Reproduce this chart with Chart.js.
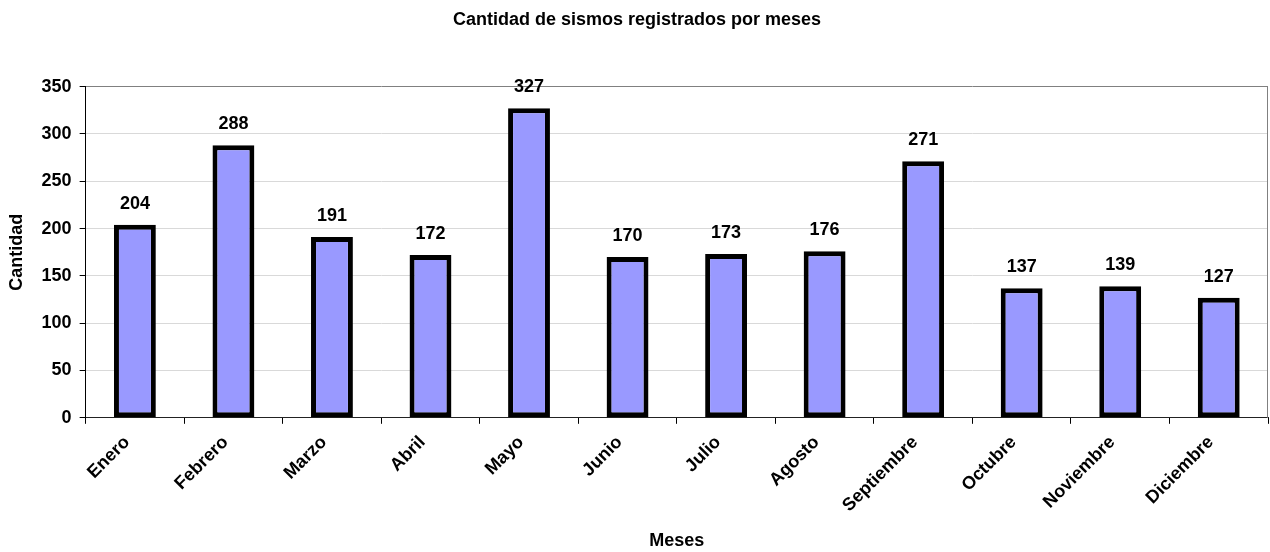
<!DOCTYPE html>
<html lang="es">
<head>
<meta charset="UTF-8">
<title>Cantidad de sismos registrados por meses</title>
<script src="https://cdn.jsdelivr.net/npm/chart.js"></script>
<style>
    body { margin: 0; padding: 0; background: #fff; }
    .wrap { width: 1270px; height: 552px; }
</style>
</head>
<body>
<div class="wrap"><canvas id="sismos"></canvas></div>
<script>
    var meses = ['Enero', 'Febrero', 'Marzo', 'Abril', 'Mayo', 'Junio', 'Julio', 'Agosto', 'Septiembre', 'Octubre', 'Noviembre', 'Diciembre'];
    var cantidad = [204, 288, 191, 172, 327, 170, 173, 176, 271, 137, 139, 127];
    var yTicks = [0, 50, 100, 150, 200, 250, 300, 350];

    var fuente = '"Liberation Sans", Arial, sans-serif';

    // labels over each bar + right edge of the plot area
    var etiquetas = {
        id: 'etiquetas',
        afterDatasetsDraw: function(chart) {
            var ctx = chart.ctx;
            var meta = chart.getDatasetMeta(0);
            ctx.save();
            ctx.font = 'bold 18px ' + fuente;
            ctx.fillStyle = '#000';
            ctx.textAlign = 'center';
            ctx.textBaseline = 'alphabetic';
            meta.data.forEach(function(bar, i) {
                ctx.fillText(cantidad[i], bar.x, bar.y - 16);
            });
            var a = chart.chartArea;
            ctx.strokeStyle = '#808080';
            ctx.lineWidth = 1;
            ctx.beginPath();
            ctx.moveTo(a.right - 0.5, a.top);
            ctx.lineTo(a.right - 0.5, a.bottom);
            ctx.stroke();
            ctx.restore();
        }
    };

    new Chart(document.getElementById('sismos'), {
        type: 'bar',
        data: {
            labels: meses,
            datasets: [{
                data: cantidad,
                backgroundColor: '#9999ff',
                borderColor: '#000',
                borderWidth: 5,
                borderSkipped: false,
                barPercentage: 0.425,
                categoryPercentage: 1
            }]
        },
        options: {
            responsive: true,
            maintainAspectRatio: false,
            animation: false,
            layout: { padding: { top: 0, right: 2, left: 6, bottom: 0 } },
            plugins: {
                legend: { display: false },
                tooltip: { enabled: false },
                title: {
                    display: true,
                    text: 'Cantidad de sismos registrados por meses',
                    color: '#000',
                    font: { family: fuente, size: 18, weight: 'bold' },
                    padding: { top: 9, bottom: 56 }
                }
            },
            scales: {
                x: {
                    offset: true,
                    grid: { offset: true, drawOnChartArea: false, color: '#000', tickLength: 6 },
                    border: { color: '#222', width: 1 },
                    ticks: {
                        color: '#000',
                        maxRotation: 45,
                        minRotation: 45,
                        padding: 8,
                        labelOffset: -8,
                        font: { family: fuente, size: 18, weight: 'bold' }
                    },
                    title: {
                        display: true,
                        text: 'Meses',
                        color: '#000',
                        font: { family: fuente, size: 18, weight: 'bold' },
                        padding: { top: 6, bottom: 0 }
                    }
                },
                y: {
                    min: 0,
                    max: 350,
                    afterBuildTicks: function(axis) {
                        axis.ticks = yTicks.map(function(v) { return { value: v }; });
                    },
                    grid: {
                        color: function(c) { return c.tick && c.tick.value === 350 ? '#808080' : '#d9d9d9'; },
                        tickColor: '#000',
                        tickLength: 6
                    },
                    border: { color: '#000', width: 1 },
                    ticks: {
                        color: '#000',
                        padding: 8,
                        font: { family: fuente, size: 18, weight: 'bold' }
                    },
                    title: {
                        display: true,
                        text: 'Cantidad',
                        color: '#000',
                        font: { family: fuente, size: 18, weight: 'bold' },
                        padding: { top: 0, bottom: 6 }
                    }
                }
            }
        },
        plugins: [etiquetas]
    });
</script>
</body>
</html>
